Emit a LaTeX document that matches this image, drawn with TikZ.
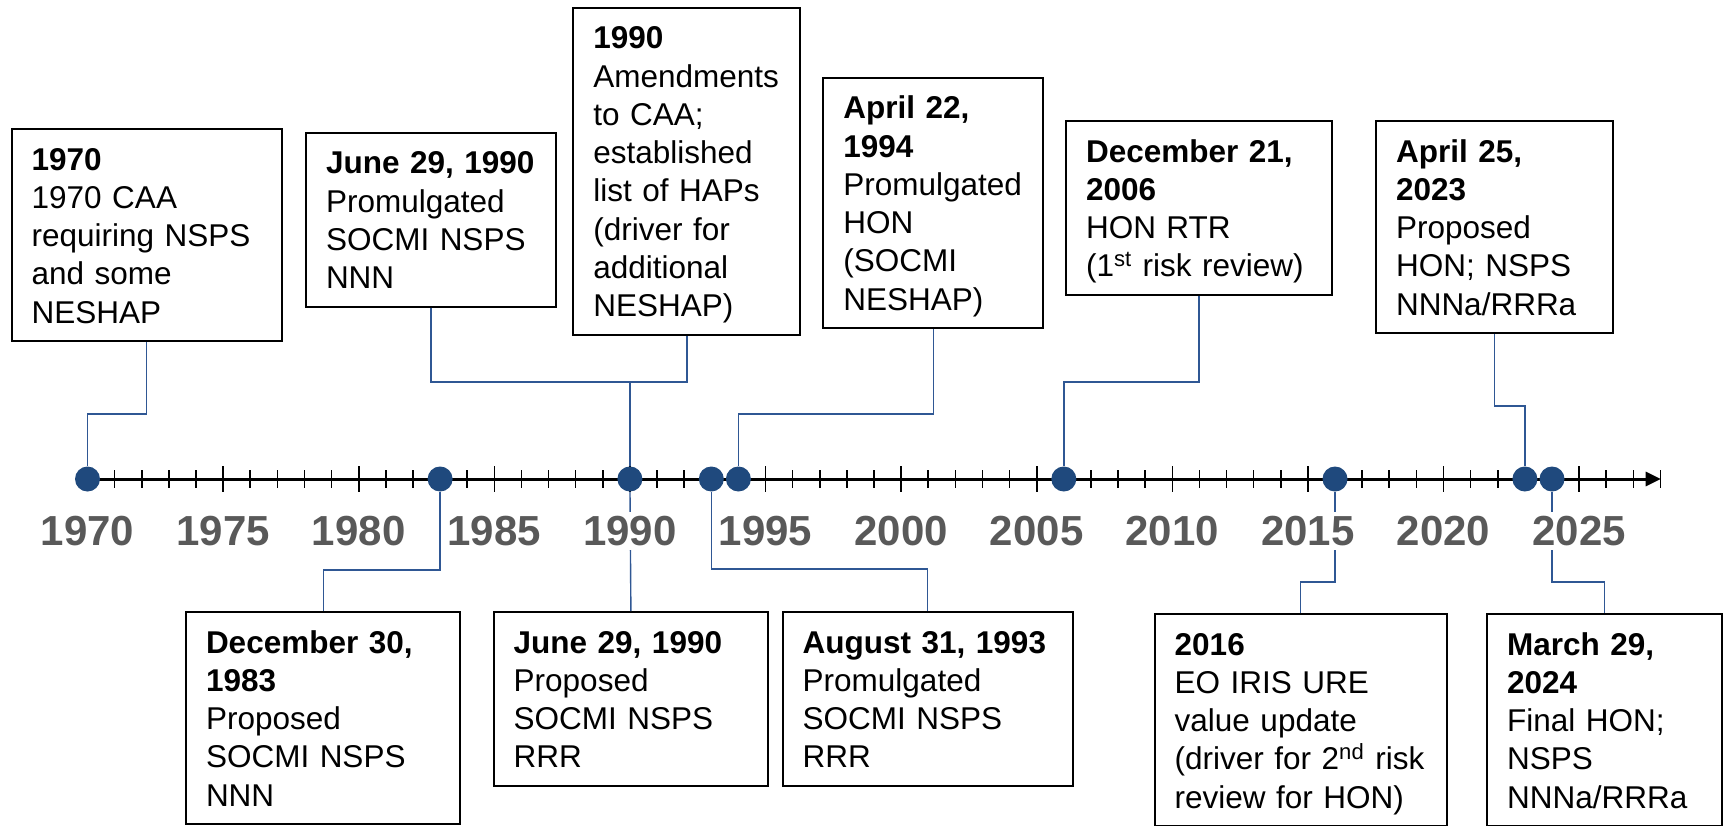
\documentclass[tikz,border=0pt]{standalone}
\usepackage{fontspec}
\setmainfont{Liberation Sans}
\usetikzlibrary{arrows.meta}
\definecolor{dotblue}{RGB}{31,73,125}
\definecolor{linkblue}{RGB}{47,87,148}
\definecolor{yeargray}{RGB}{89,89,89}
\newcommand\boxfont{\fontsize{15.75pt}{19.15pt}\selectfont}
\newcommand\topstrut{\rule{0pt}{15.5pt}}
\newcommand\botstrut{\rule[-4pt]{0pt}{4pt}}
\begin{document}
\begin{tikzpicture}[x=0.5pt,y=-0.5pt]
	\tikzset{box/.style = {draw,line width=1pt,anchor=north west,align=left,inner xsep=10pt,inner ysep=5pt,font=\boxfont,execute at begin node=\topstrut,execute at end node=\botstrut}}
	\tikzset{dot/.style = {circle,fill=dotblue,inner sep=0pt,minimum size=12.5pt}}
	\tikzset{link/.style = {draw=linkblue,line width=0.7pt}}
	\tikzset{yearlbl/.style = {fill=white,inner sep=2pt,text=yeargray,font=\fontsize{21pt}{24pt}\selectfont\bfseries}}
	\useasboundingbox (0,0) rectangle (1723,825);
	% axis and ticks
	\draw[line width=1.5pt,-{Triangle[length=7.5pt,width=7pt]}] (87.5,479) -- (1660.7,479);
	\foreach \yr in {1971,...,2028}
		\draw[line width=0.8pt] ({87.5+27.12*(\yr-1970)},470) -- ++(0,18);
	\foreach \yr in {1975,1980,...,2025}
		\draw[line width=0.8pt] ({87.5+27.12*(\yr-1970)},466) -- ++(0,26);
	% events on the axis
	\node[dot] (d1970) at (87.5,479) {};
	\node[dot] (d1983) at (440.1,479) {};
	\node[dot] (d1990) at (629.9,479) {};
	\node[dot] (d1993) at (711.3,479) {};
	\node[dot] (d1994) at (738.4,479) {};
	\node[dot] (d2006) at (1063.8,479) {};
	\node[dot] (d2016) at (1335.0,479) {};
	\node[dot] (d2023) at (1524.9,479) {};
	\node[dot] (d2024) at (1552.0,479) {};
	% boxes above
	\node[box,text width=115pt] (t1970) at (10.7,128) {\textbf{1970}\\1970 CAA\\requiring NSPS\\and some\\NESHAP};
	\node[box,text width=105pt] (tJune90) at (305,131.7) {\textbf{June 29, 1990}\\Promulgated\\SOCMI NSPS\\NNN};
	\node[box,text width=93.5pt] (tAmend) at (572.3,6.7) {\textbf{1990}\\Amendments\\to CAA;\\established\\list of HAPs\\(driver for\\additional\\NESHAP)};
	\node[box,text width=90pt] (tApr94) at (822.3,76.7) {\textbf{April 22,}\\\textbf{1994}\\Promulgated\\HON\\(SOCMI\\NESHAP)};
	\node[box,text width=113pt] (tDec06) at (1065,120) {\textbf{December 21,}\\\textbf{2006}\\HON RTR\\(1\textsuperscript{st} risk review)};
	\node[box,text width=98.3pt] (tApr23) at (1375,120) {\textbf{April 25,}\\\textbf{2023}\\Proposed\\HON; NSPS\\NNNa/RRRa};
	% boxes below
	\node[box,text width=117.2pt] (bDec83) at (185,611) {\textbf{December 30,}\\\textbf{1983}\\Proposed\\SOCMI NSPS\\NNN};
	\node[box,text width=117.2pt] (bJune90) at (492.7,611) {\textbf{June 29, 1990}\\Proposed\\SOCMI NSPS\\RRR};
	\node[box,text width=125pt] (bAug93) at (781.7,611) {\textbf{August 31, 1993}\\Promulgated\\SOCMI NSPS\\RRR};
	\node[box,text width=126pt] (b2016) at (1153.7,613) {\textbf{2016}\\EO IRIS URE\\value update\\(driver for 2\textsuperscript{nd} risk\\review for HON)};
	\node[box,text width=97.5pt] (bMar24) at (1486,613) {\textbf{March 29,}\\\textbf{2024}\\Final HON;\\NSPS\\NNNa/RRRa};
	% connectors
	\coordinate (j1990) at (629.9,382);
	\draw[link] (t1970.south) -- (t1970.south |- 0,414) -| (d1970);
	\draw[link] (tJune90.south) |- (j1990) -| (tAmend.south);
	\draw[link] (j1990) -- (d1990);
	\draw[link] (tApr94.south) -- (tApr94.south |- 0,414) -| (d1994);
	\draw[link] (tDec06.south) -- (tDec06.south |- 0,382) -| (d2006);
	\draw[link] (tApr23.south) -- (tApr23.south |- 0,406) -| (d2023);
	\draw[link] (bDec83.north) -- (bDec83.north |- 0,570) -| (d1983);
	\draw[link] (bJune90.north) -- (d1990);
	\draw[link] (bAug93.north) -- (bAug93.north |- 0,569) -| (d1993);
	\draw[link] (b2016.north) -- (b2016.north |- 0,582) -| (d2016);
	\draw[link] (bMar24.north) -- (bMar24.north |- 0,582) -| (d2024);
	% year labels
	\foreach \yr in {1970,1975,...,2025}
		\node[yearlbl] (l\yr) at ({87.5+27.12*(\yr-1970)},531) {\yr};
\end{tikzpicture}
\end{document}
